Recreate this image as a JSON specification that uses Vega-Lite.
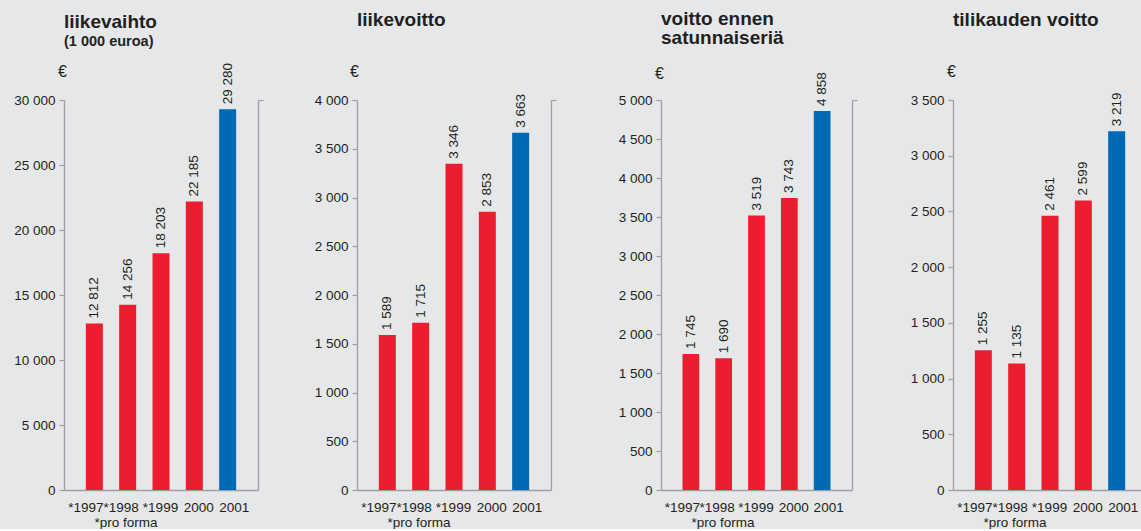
{
  "$schema": "https://vega.github.io/schema/vega-lite/v6.json",
  "background": "#e6e7e8",
  "padding": {"left": 13, "top": 10, "right": 0, "bottom": 0},
  "spacing": 40,
  "datasets": {
    "d": [
      {"k": 1, "y": "*1997", "v": 12812}, {"k": 1, "y": "*1998", "v": 14256}, {"k": 1, "y": "*1999", "v": 18203}, {"k": 1, "y": "2000", "v": 22185}, {"k": 1, "y": "2001", "v": 29280},
      {"k": 2, "y": "*1997", "v": 1589}, {"k": 2, "y": "*1998", "v": 1715}, {"k": 2, "y": "*1999", "v": 3346}, {"k": 2, "y": "2000", "v": 2853}, {"k": 2, "y": "2001", "v": 3663},
      {"k": 3, "y": "*1997", "v": 1745}, {"k": 3, "y": "*1998", "v": 1690}, {"k": 3, "y": "*1999", "v": 3519}, {"k": 3, "y": "2000", "v": 3743}, {"k": 3, "y": "2001", "v": 4858},
      {"k": 4, "y": "*1997", "v": 1255}, {"k": 4, "y": "*1998", "v": 1135}, {"k": 4, "y": "*1999", "v": 2461}, {"k": 4, "y": "2000", "v": 2599}, {"k": 4, "y": "2001", "v": 3219}
    ]
  },
  "config": {
    "locale": {"number": {"decimal": ",", "thousands": " ", "grouping": [3], "currency": ["", " €"]}},
    "view": {"stroke": null},
    "font": "Liberation Sans",
    "axis": {"domainColor": "#9d9fa2", "tickColor": "#9d9fa2", "labelColor": "#231f20", "labelFont": "Liberation Sans", "labelFontSize": 13.5, "grid": false, "domainWidth": 1.3, "tickWidth": 1.2, "titleColor": "#231f20", "titleFont": "Liberation Sans"},
    "axisX": {
      "labelOffset": {"condition": [
        {"test": "datum.value === '*1997'", "value": -8.5},
        {"test": "datum.value === '*1998'", "value": -6.5},
        {"test": "datum.value === '*1999'", "value": -0.5},
        {"test": "datum.value === '2000'", "value": 4.5}
      ], "value": 6.5}
    },
    "title": {"anchor": "start", "frame": "group", "fontSize": 19, "fontWeight": "bold", "color": "#231f20", "font": "Liberation Sans", "subtitleFont": "Liberation Sans", "subtitleFontSize": 14.5, "subtitleFontWeight": "bold", "subtitleColor": "#231f20", "subtitlePadding": 3, "lineHeight": 19},
    "text": {"font": "Liberation Sans", "fontSize": 13.5, "color": "#231f20"}
  },
  "hconcat": [
    {
      "width": 194, "height": 390,
      "title": {"text": "liikevaihto", "subtitle": "(1 000 euroa)", "offset": 15},
      "data": {"name": "d"},
      "transform": [{"filter": "datum.k === 1"}],
      "encoding": {
        "x": {"field": "y", "type": "ordinal", "sort": null, "scale": {"paddingInner": 0.49, "paddingOuter": 0.655},
          "axis": {"title": "*pro forma", "titleX": 30, "titleY": 36, "titleAlign": "left", "titleBaseline": "alphabetic", "titleFontSize": 13.5, "titleFontWeight": "normal", "labelAngle": 0, "ticks": false, "tickSize": 0, "labelPadding": 10}}
      },
      "layer": [
        {"mark": {"type": "bar"},
          "encoding": {
            "y": {"field": "v", "type": "quantitative", "scale": {"domain": [0, 30000], "nice": false},
              "axis": {"orient": "left", "values": [0, 5000, 10000, 15000, 20000, 25000, 30000], "format": ",d", "title": "€", "titleAngle": 0, "titleX": -2, "titleY": -24, "titleAlign": "center", "titleBaseline": "alphabetic", "titleFontSize": 16, "titleFontWeight": "normal", "tickSize": 5, "labelPadding": 4}},
            "color": {"condition": {"test": "datum.y === '2001'", "value": "#0069b4"}, "value": "#ed1c2e"}
          }},
        {"mark": {"type": "text", "angle": 270, "align": "left", "baseline": "middle", "dx": 5},
          "encoding": {
            "y": {"field": "v", "type": "quantitative", "scale": {"domain": [0, 30000], "nice": false},
              "axis": {"orient": "right", "values": [30000], "labels": false, "title": null, "tickSize": 5}},
            "text": {"field": "v", "type": "quantitative", "format": ",d"}
          }}
      ],
      "resolve": {"axis": {"y": "independent"}}
    },
    {
      "width": 194, "height": 390,
      "title": {"text": "liikevoitto", "offset": 33},
      "data": {"name": "d"},
      "transform": [{"filter": "datum.k === 2"}],
      "encoding": {
        "x": {"field": "y", "type": "ordinal", "sort": null, "scale": {"paddingInner": 0.49, "paddingOuter": 0.655},
          "axis": {"title": "*pro forma", "titleX": 30, "titleY": 36, "titleAlign": "left", "titleBaseline": "alphabetic", "titleFontSize": 13.5, "titleFontWeight": "normal", "labelAngle": 0, "ticks": false, "tickSize": 0, "labelPadding": 10}}
      },
      "layer": [
        {"mark": {"type": "bar"},
          "encoding": {
            "y": {"field": "v", "type": "quantitative", "scale": {"domain": [0, 4000], "nice": false},
              "axis": {"orient": "left", "values": [0, 500, 1000, 1500, 2000, 2500, 3000, 3500, 4000], "format": ",d", "title": "€", "titleAngle": 0, "titleX": -3, "titleY": -24, "titleAlign": "center", "titleBaseline": "alphabetic", "titleFontSize": 16, "titleFontWeight": "normal", "tickSize": 5, "labelPadding": 4, "minExtent": 53}},
            "color": {"condition": {"test": "datum.y === '2001'", "value": "#0069b4"}, "value": "#ed1c2e"}
          }},
        {"mark": {"type": "text", "angle": 270, "align": "left", "baseline": "middle", "dx": 5},
          "encoding": {
            "y": {"field": "v", "type": "quantitative", "scale": {"domain": [0, 4000], "nice": false},
              "axis": {"orient": "right", "values": [4000], "labels": false, "title": null, "tickSize": 5}},
            "text": {"field": "v", "type": "quantitative", "format": ",d"}
          }}
      ],
      "resolve": {"axis": {"y": "independent"}}
    },
    {
      "width": 191, "height": 390,
      "title": {"text": ["voitto ennen", "satunnaiseriä"], "offset": 17},
      "data": {"name": "d"},
      "transform": [{"filter": "datum.k === 3"}],
      "encoding": {
        "x": {"field": "y", "type": "ordinal", "sort": null, "scale": {"paddingInner": 0.49, "paddingOuter": 0.655},
          "axis": {"title": "*pro forma", "titleX": 30, "titleY": 36, "titleAlign": "left", "titleBaseline": "alphabetic", "titleFontSize": 13.5, "titleFontWeight": "normal", "labelAngle": 0, "ticks": false, "tickSize": 0, "labelPadding": 10}}
      },
      "layer": [
        {"mark": {"type": "bar"},
          "encoding": {
            "y": {"field": "v", "type": "quantitative", "scale": {"domain": [0, 5000], "nice": false},
              "axis": {"orient": "left", "values": [0, 500, 1000, 1500, 2000, 2500, 3000, 3500, 4000, 4500, 5000], "format": ",d", "title": "€", "titleAngle": 0, "titleX": -2, "titleY": -22, "titleAlign": "center", "titleBaseline": "alphabetic", "titleFontSize": 16, "titleFontWeight": "normal", "tickSize": 5, "labelPadding": 4, "minExtent": 64}},
            "color": {"condition": {"test": "datum.y === '2001'", "value": "#0069b4"}, "value": "#ed1c2e"}
          }},
        {"mark": {"type": "text", "angle": 270, "align": "left", "baseline": "middle", "dx": 5},
          "encoding": {
            "y": {"field": "v", "type": "quantitative", "scale": {"domain": [0, 5000], "nice": false},
              "axis": {"orient": "right", "values": [5000], "labels": false, "title": null, "tickSize": 5}},
            "text": {"field": "v", "type": "quantitative", "format": ",d"}
          }}
      ],
      "resolve": {"axis": {"y": "independent"}}
    },
    {
      "width": 194, "height": 390,
      "title": {"text": "tilikauden voitto", "offset": 33},
      "data": {"name": "d"},
      "transform": [{"filter": "datum.k === 4"}],
      "encoding": {
        "x": {"field": "y", "type": "ordinal", "sort": null, "scale": {"paddingInner": 0.49, "paddingOuter": 0.655},
          "axis": {"title": "*pro forma", "titleX": 30, "titleY": 36, "titleAlign": "left", "titleBaseline": "alphabetic", "titleFontSize": 13.5, "titleFontWeight": "normal", "labelAngle": 0, "ticks": false, "tickSize": 0, "labelPadding": 10}}
      },
      "layer": [
        {"mark": {"type": "bar"},
          "encoding": {
            "y": {"field": "v", "type": "quantitative", "scale": {"domain": [0, 3500], "nice": false},
              "axis": {"orient": "left", "values": [0, 500, 1000, 1500, 2000, 2500, 3000, 3500], "format": ",d", "title": "€", "titleAngle": 0, "titleX": -2, "titleY": -24, "titleAlign": "center", "titleBaseline": "alphabetic", "titleFontSize": 16, "titleFontWeight": "normal", "tickSize": 5, "labelPadding": 4, "minExtent": 55}},
            "color": {"condition": {"test": "datum.y === '2001'", "value": "#0069b4"}, "value": "#ed1c2e"}
          }},
        {"mark": {"type": "text", "angle": 270, "align": "left", "baseline": "middle", "dx": 5},
          "encoding": {
            "y": {"field": "v", "type": "quantitative", "scale": {"domain": [0, 3500], "nice": false},
              "axis": {"orient": "right", "values": [3500], "labels": false, "title": null, "tickSize": 5}},
            "text": {"field": "v", "type": "quantitative", "format": ",d"}
          }}
      ],
      "resolve": {"axis": {"y": "independent"}}
    }
  ]
}
